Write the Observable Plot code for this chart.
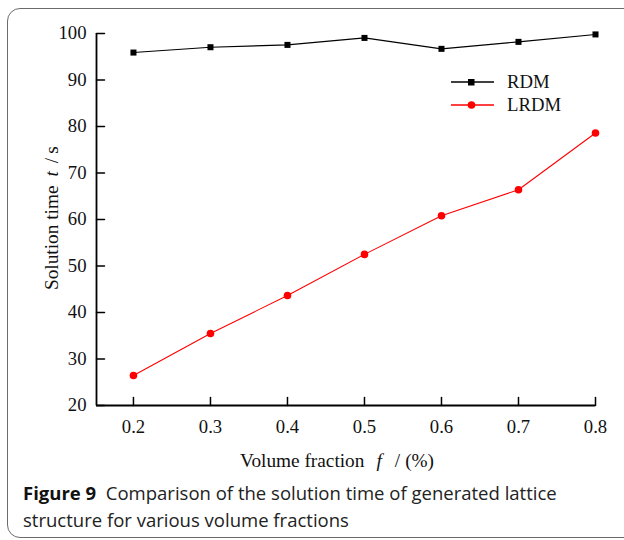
<!DOCTYPE html>
<html>
<head>
<meta charset="utf-8">
<script src="https://cdn.jsdelivr.net/npm/d3@7"></script>
<script src="https://cdn.jsdelivr.net/npm/@observablehq/plot@0.6"></script>
<style>
  html, body { margin: 0; padding: 0; background: #fff; }
  body { width: 624px; height: 540px; position: relative; overflow: hidden; }
  #box { position: absolute; left: 7px; top: 8px; width: 640px; height: 530px; border: 1.3px solid #6b6b6b; border-radius: 13px; box-sizing: border-box; }
  #chart { position: absolute; left: 0; top: 0; }
  #legend { position: absolute; left: 446px; top: 70px; font-family: "Liberation Serif", "DejaVu Serif", serif; font-size: 18.7px; color: #111; }
  #legend .row { display: flex; align-items: center; height: 23px; }
  #legend svg { margin-right: 11px; }
  #caption { position: absolute; left: 23px; top: 479px; white-space: nowrap; font-family: "Open Sans", "Noto Sans", sans-serif; font-size: 16.5px; line-height: 27px; color: #222; }
  #caption b { font-weight: 700; color: #111; }
</style>
</head>
<body>
<div id="box"></div>
<div id="chart"></div>
<div id="legend"></div>
<div id="caption"><span id="cap1"><b>Figure 9</b>&nbsp; Comparison of the solution time of generated lattice</span><br><span>structure for various volume fractions</span></div>
<script>
const fractions = [0.2, 0.3, 0.4, 0.5, 0.6, 0.7, 0.8];
const rdm = [95.9, 97.05, 97.55, 99.05, 96.7, 98.2, 99.8];
const lrdm = [26.45, 35.5, 43.65, 52.5, 60.8, 66.4, 78.6];
const xTicks = [0.2, 0.3, 0.4, 0.5, 0.6, 0.7, 0.8];
const yTicks = [20, 30, 40, 50, 60, 70, 80, 90, 100];
const seriesNames = ["RDM", "LRDM"];
const seriesColors = ["#000000", "#ff0000"];

const rdmData = fractions.map((f, i) => ({f, t: rdm[i]}));
const lrdmData = fractions.map((f, i) => ({f, t: lrdm[i]}));

const tickShape = { draw(context, l) { context.moveTo(0, 0); context.lineTo(0, -l); } };
const serif = "'Liberation Serif', 'DejaVu Serif', serif";

const plot = Plot.plot({
  width: 624,
  height: 480,
  marginLeft: 96,
  marginRight: 29,
  marginTop: 33,
  marginBottom: 75,
  style: { fontFamily: serif, fontSize: "18.7px", color: "#111", background: "transparent" },
  x: { domain: [0.152, 0.8] },
  y: { domain: [20, 100] },
  marks: [
    Plot.axisX(xTicks, { tickSize: 0, tickPadding: 14, label: null, tickFormat: d3.format(".1f") }),
    Plot.axisY(yTicks, { tickSize: 0, tickPadding: 10, label: null }),
    Plot.vector(xTicks, { x: d => d, frameAnchor: "bottom", length: 8, rotate: 0, anchor: "start", shape: tickShape, stroke: "#000", strokeWidth: 1.5 }),
    Plot.vector(yTicks, { y: d => d, frameAnchor: "left", length: 8, rotate: 90, anchor: "start", shape: tickShape, stroke: "#000", strokeWidth: 1.5 }),
    Plot.ruleX([0.152], { stroke: "#000", strokeWidth: 1.8 }),
    Plot.ruleY([20], { stroke: "#000", strokeWidth: 1.8 }),
    Plot.line(rdmData, { x: "f", y: "t", stroke: seriesColors[0], strokeWidth: 1.1 }),
    Plot.dot(rdmData, { x: "f", y: "t", symbol: "square", r: 3.4, fill: seriesColors[0], stroke: "none" }),
    Plot.line(lrdmData, { x: "f", y: "t", stroke: seriesColors[1], strokeWidth: 1.1 }),
    Plot.dot(lrdmData, { x: "f", y: "t", r: 3.8, fill: seriesColors[1], stroke: "none" })
  ]
});
document.getElementById("chart").appendChild(plot);

const svg = d3.select(plot);
// force the tick label font
svg.selectAll("g[aria-label$='tick label']").attr("font-size", null).style("font-size", "18.7px").style("font-family", serif);
svg.selectAll("g[aria-label$='tick label'] text").style("font-size", "18.7px").style("font-family", serif).attr("fill", "#111");

// axis titles with italic symbols
const xl = svg.append("text")
  .attr("x", 240).attr("y", 467)
  .attr("text-anchor", "start")
  .style("font-family", serif).style("font-size", "19.3px").attr("fill", "#111");
xl.append("tspan").text("Volume fraction");
xl.append("tspan").attr("dx", 12).attr("font-style", "italic").text("f");
xl.append("tspan").attr("dx", 13).text("/");
xl.append("tspan").attr("dx", 5).text("(%)");

const yl = svg.append("text")
  .attr("transform", "translate(58,290) rotate(-90)")
  .attr("text-anchor", "start")
  .style("font-family", serif).style("font-size", "19.3px").attr("fill", "#111");
yl.append("tspan").text("Solution time");
yl.append("tspan").attr("dx", 9).attr("font-style", "italic").text("t");
yl.append("tspan").attr("dx", 8).text("/");
yl.append("tspan").attr("dx", 4).text("s");

// legend
const legend = d3.select("#legend");
seriesNames.forEach((name, i) => {
  const row = legend.append("div").attr("class", "row");
  const s = row.append("svg").attr("width", 50).attr("height", 12);
  s.append("line").attr("x1", 5).attr("x2", 48).attr("y1", 6).attr("y2", 6).attr("stroke", seriesColors[i]).attr("stroke-width", 1.3);
  if (i === 0) s.append("rect").attr("x", 22).attr("y", 3).attr("width", 6.5).attr("height", 6.5).attr("fill", seriesColors[i]);
  else s.append("circle").attr("cx", 25.5).attr("cy", 6).attr("r", 3.8).attr("fill", seriesColors[i]);
  row.append("span").text(name);
});

// fit caption's first line to the reference width
const cap = document.getElementById("caption");
const w = document.getElementById("cap1").getBoundingClientRect().width;
cap.style.fontSize = (16.5 * 534 / w).toFixed(2) + "px";
</script>
</body>
</html>
